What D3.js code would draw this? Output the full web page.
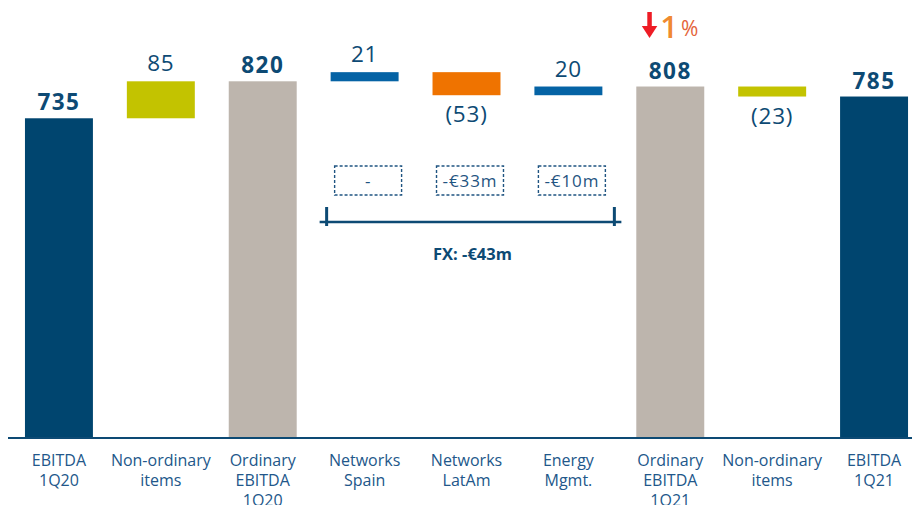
<!DOCTYPE html>
<html>
<head>
<meta charset="utf-8">
<script src="https://cdn.jsdelivr.net/npm/d3@7"></script>
<style>
body { margin: 0; background: #fff; }
svg text { font-family: "Open Sans", "Noto Sans", sans-serif; }
</style>
</head>
<body>
<svg id="chart" width="912" height="505"></svg>
<script>
// categories, two lines each (third line where needed)
var categories = [
  ["EBITDA", "1Q20"],
  ["Non-ordinary", "items"],
  ["Ordinary", "EBITDA", "1Q20"],
  ["Networks", "Spain"],
  ["Networks", "LatAm"],
  ["Energy", "Mgmt."],
  ["Ordinary", "EBITDA", "1Q21"],
  ["Non-ordinary", "items"],
  ["EBITDA", "1Q21"]
]
// total = bar from zero, otherwise a step
var kinds = ["total", "step", "total", "step", "step", "step", "total", "step", "total"]
var values = [735, 85, 820, 21, -53, 20, 808, -23, 785]
var valueLabels = ["735", "85", "820", "21", "(53)", "20", "808", "(23)", "785"]
var colors = ["#00456f", "#c3c300", "#bdb5ad", "#0563a5", "#ef7300", "#0563a5", "#bdb5ad", "#c3c300", "#00456f"]
var fxLabels = ["-", "-€33m", "-€10m"]   // under Networks Spain, LatAm, Energy Mgmt.
var fxTotal = "FX: -€43m"
var changeLabel = ["1", "%"]

var svg = d3.select("#chart")
var navy = "#0d4a74"

var x = d3.scaleBand()
  .domain(d3.range(categories.length))
  .range([8, 925])
  .paddingInner(0.333)
  .paddingOuter(0.1665)

var y = d3.scaleLinear().domain([0, 1000]).range([438, 3])

// running totals for the waterfall
var bars = []
var running = 0
values.forEach(function (v, i) {
  var start, end
  if (kinds[i] == "total") { start = 0; end = v; running = v }
  else { start = running; end = running + v; running = end }
  bars.push({ i: i, start: start, end: end, v: v })
})

svg.selectAll("rect.bar").data(bars).enter().append("rect")
  .attr("class", "bar")
  .attr("x", function (d) { return x(d.i) })
  .attr("width", x.bandwidth())
  .attr("y", function (d) { return y(Math.max(d.start, d.end)) })
  .attr("height", function (d) { return Math.abs(y(d.start) - y(d.end)) })
  .attr("fill", function (d) { return colors[d.i] })

// value labels
svg.selectAll("text.val").data(bars).enter().append("text")
  .attr("class", "val")
  .attr("x", function (d) { return x(d.i) + x.bandwidth() / 2 })
  .attr("y", function (d) {
    if (d.v < 0) return y(Math.min(d.start, d.end)) + 27
    return y(Math.max(d.start, d.end)) - (kinds[d.i] == "total" ? 8 : 10)
  })
  .attr("text-anchor", "middle")
  .attr("font-size", 22.5)
  .attr("letter-spacing", function (d) { return kinds[d.i] == "total" ? 1.5 : 0.8 })
  .attr("font-weight", function (d) { return kinds[d.i] == "total" ? 700 : 400 })
  .attr("fill", navy)
  .text(function (d) { return valueLabels[d.i] })

// axis line
svg.append("line")
  .attr("x1", 8).attr("x2", 912)
  .attr("y1", y(0)).attr("y2", y(0))
  .attr("stroke", navy).attr("stroke-width", 2)

// category labels
var cat = svg.selectAll("text.cat").data(categories).enter().append("text")
  .attr("class", "cat")
  .attr("text-anchor", "middle")
  .attr("font-size", 16)
  .attr("fill", "#22578a")
cat.selectAll("tspan").data(function (d, i) { return d.map(function (t) { return { t: t, i: i } }) })
  .enter().append("tspan")
  .attr("x", function (d) { return x(d.i) + x.bandwidth() / 2 })
  .attr("y", function (d, j) { return 466 + j * 20 })
  .text(function (d) { return d.t })

// FX dashed boxes under the three business steps
var fxIdx = [3, 4, 5]
var fx = svg.selectAll("g.fx").data(fxIdx).enter().append("g").attr("class", "fx")
fx.append("rect")
  .attr("x", function (d) { return x(d) + 4 })
  .attr("y", 166)
  .attr("width", x.bandwidth() - 1)
  .attr("height", 29)
  .attr("fill", "none")
  .attr("stroke", "#1f5481")
  .attr("stroke-width", 1.4)
  .attr("stroke-dasharray", "3,2")
fx.append("text")
  .attr("x", function (d) { return x(d) + 4 + (x.bandwidth() - 1) / 2 })
  .attr("y", 187)
  .attr("text-anchor", "middle")
  .attr("font-size", 17)
  .attr("letter-spacing", 0.9)
  .attr("fill", "#1f5481")
  .text(function (d, i) { return fxLabels[i] })

// bracket
var bx1 = x(3) - 4, bx2 = x(5) + x.bandwidth() + 12
svg.append("line").attr("x1", bx1 - 7).attr("x2", bx2 + 7).attr("y1", 222).attr("y2", 222)
  .attr("stroke", navy).attr("stroke-width", 2.5)
svg.append("line").attr("x1", bx1).attr("x2", bx1).attr("y1", 207).attr("y2", 226)
  .attr("stroke", navy).attr("stroke-width", 3)
svg.append("line").attr("x1", bx2).attr("x2", bx2).attr("y1", 207).attr("y2", 226)
  .attr("stroke", navy).attr("stroke-width", 3)
svg.append("text")
  .attr("x", (bx1 + bx2) / 2 + 2).attr("y", 260)
  .attr("text-anchor", "middle")
  .attr("font-size", 16.5).attr("font-weight", 700)
  .attr("fill", navy)
  .text(fxTotal)

// change vs 1Q20 ordinary EBITDA: red arrow, orange "1%"
var ax = x(6) + 13
svg.append("rect").attr("x", ax - 2).attr("y", 12).attr("width", 4.5).attr("height", 17).attr("fill", "#ee1c25")
svg.append("path")
  .attr("d", d3.line()([[ax - 7.5, 26], [ax + 8, 26], [ax + 0.25, 38]]))
  .attr("fill", "#ee1c25")
var change = svg.append("text")
  .attr("x", ax + 11).attr("y", 37.5)
  .attr("font-size", 31).attr("font-weight", 600)
change.append("tspan").attr("fill", "#f08a30").text(changeLabel[0])
change.append("tspan").attr("fill", "#e4643a").attr("font-size", 21).attr("font-weight", 400)
  .attr("dx", 3).attr("dy", -2).text(changeLabel[1])
</script>
</body>
</html>
